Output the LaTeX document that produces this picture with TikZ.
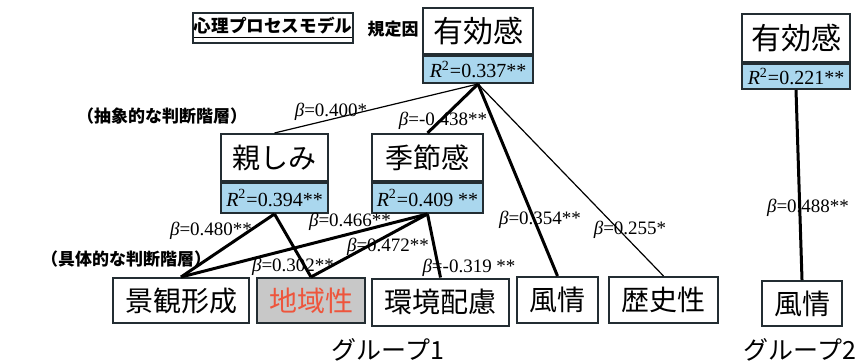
\documentclass[tikz,border=0pt]{standalone}
\usepackage{fontspec}
\setmainfont{Liberation Serif}
\newfontfamily\jpfont{Noto Sans CJK JP}
\usetikzlibrary{positioning}
\definecolor{rtwocolor}{RGB}{170,215,238}
\definecolor{regioncolor}{RGB}{200,200,200}
\definecolor{redtext}{RGB}{238,85,60}
\definecolor{boxline}{RGB}{35,45,50}

\begin{document}
\begin{tikzpicture}[x=0.5pt, y=-0.5pt,
    factor/.style={rectangle, draw=boxline, line width=1pt, fill=white, inner sep=0pt, font=\jpfont\fontsize{14}{14}\selectfont},
    rtwo/.style={rectangle, draw=boxline, line width=1pt, fill=rtwocolor, inner sep=0pt, font=\fontsize{10}{10}\selectfont},
    coef/.style={font=\fontsize{9.5}{9.5}\selectfont, inner sep=0.5pt},
    layer/.style={font=\jpfont\bfseries\fontsize{8.5}{8.5}\selectfont},
    group/.style={font=\jpfont\fontsize{12.5}{12.5}\selectfont},
    strong/.style={line width=1.5pt, draw=black},
    weak/.style={line width=0.6pt, draw=black}]

    \useasboundingbox (0,0) rectangle (865,363);

    % Header
    \node [draw=boxline, line width=0.8pt, minimum width=80pt, minimum height=15pt, inner sep=0pt, layer, font=\jpfont\bfseries\fontsize{8.8}{8.8}\selectfont] (model) at (273,28) {\underline{心理プロセスモデル}};
    \node [layer] (kitei) at (393,29) {規定因};

    % Group 1: top factor
    \node [factor, font=\jpfont\fontsize{15}{15}\selectfont, minimum width=55pt, minimum height=23pt] (yuko) at (478,31) {有効感};
    \node [rtwo, minimum width=55pt, minimum height=13.5pt, below=0pt of yuko] (yukor) {\textit{R}\textsuperscript{2}=0.337**};

    % Abstract layer
    \node [layer] (abstract) at (162,116) {（抽象的な判断階層）};
    \node [factor, minimum width=53.5pt, minimum height=23.5pt] (shitashimi) at (274.5,157.5) {親しみ};
    \node [rtwo, minimum width=53.5pt, minimum height=15pt, below=0pt of shitashimi] (shitashimir) {\textit{R}\textsuperscript{2}=0.394**};
    \node [factor, minimum width=55.5pt, minimum height=23.5pt] (kisetsu) at (427.5,157.5) {季節感};
    \node [rtwo, minimum width=55.5pt, minimum height=15pt, below=0pt of kisetsu] (kisetsur) {\textit{R}\textsuperscript{2}=0.409 **};

    % Concrete layer
    \node [layer] (concrete) at (126,259) {（具体的な判断階層）};
    \node [factor, minimum width=68pt, minimum height=22.5pt] (keikan) at (181,300.5) {景観形成};
    \node [factor, fill=regioncolor, text=redtext, minimum width=54pt, minimum height=22.5pt] (chiiki) at (311,300.5) {地域性};
    \node [factor, minimum width=68.5pt, minimum height=23.5pt] (kankyo) at (440.5,302) {環境配慮};
    \node [factor, minimum width=40.5pt, minimum height=23pt] (fuzei) at (557.5,300) {風情};
    \node [factor, minimum width=54.5pt, minimum height=23pt] (rekishi) at (663.5,300) {歴史性};
    \node [group] (group1) at (388,350) {グループ1};

    % Group 2
    \node [factor, font=\jpfont\fontsize{15}{15}\selectfont, minimum width=54pt, minimum height=24pt] (yukob) at (796,38) {有効感};
    \node [rtwo, minimum width=54pt, minimum height=12.5pt, below=0pt of yukob] (yukobr) {\textit{R}\textsuperscript{2}=0.221**};
    \node [factor, minimum width=40pt, minimum height=22.5pt] (fuzeib) at (802,303.5) {風情};
    \node [group] (group2) at (800,350) {グループ2};

    % Coefficients
    \node [coef] (c1) at (331,112) {\textit{β}=0.400*};
    \node [coef] (c2) at (443,121) {\textit{β}=-0.438**};
    \node [coef] (c3) at (211,231) {\textit{β}=0.480**};
    \node [coef] (c4) at (350,222) {\textit{β}=0.466**};
    \node [coef] (c5) at (388,247) {\textit{β}=0.472**};
    \node [coef] (c6) at (293,267) {\textit{β}=0.302**};
    \node [coef] (c7) at (469,268) {\textit{β}=-0.319 **};
    \node [coef] (c8) at (540,220) {\textit{β}=0.354**};
    \node [coef] (c9) at (630,230) {\textit{β}=0.255*};
    \node [coef] (c10) at (808,208) {\textit{β}=0.488**};

    % Paths
    \draw [weak] (yukor.south) -- (shitashimi.north);
    \draw [strong] (yukor.south) -- (kisetsu.north);
    \draw [strong] (yukor.south) -- (fuzei.north);
    \draw [weak] (yukor.south) -- (rekishi.north);
    \draw [strong] (shitashimir.south) -- (keikan.north);
    \draw [strong] (shitashimir.south) -- (chiiki.north);
    \draw [strong] (kisetsur.south) -- (keikan.north);
    \draw [strong] (kisetsur.south) -- (chiiki.north);
    \draw [strong] (kisetsur.south) -- (kankyo.north);
    \draw [strong] (yukobr.south) -- (fuzeib.north);

\end{tikzpicture}
\end{document}
